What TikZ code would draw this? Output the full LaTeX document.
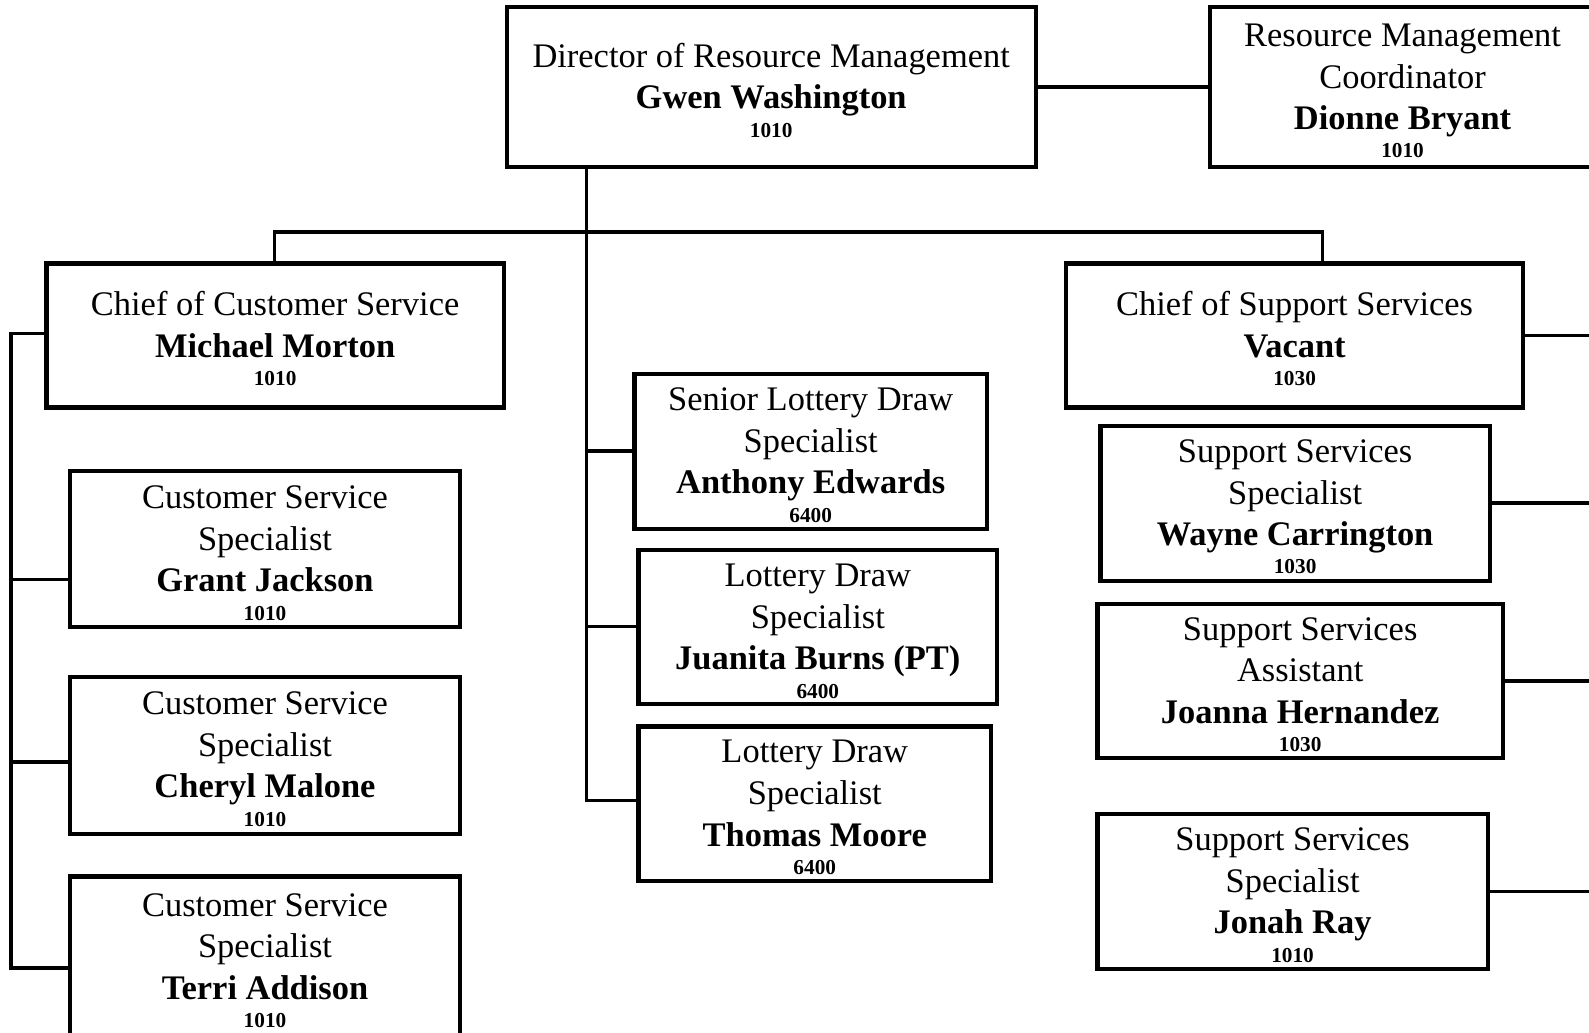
\documentclass[tikz,border=0pt]{standalone}
\usepackage{fontspec}
\setmainfont{Liberation Serif}
\newcommand\unitno[1]{\\[-6.5pt]{\fontsize{10.5}{12}\selectfont\bfseries #1}}
\newcommand\topstrut{\rule{0pt}{15pt}}
\begin{document}
\begin{tikzpicture}[x=0.5pt,y=-0.5pt,
  box/.style 2 args={draw, line width=2.1pt, minimum width=#1*0.5pt, minimum height=#2*0.5pt,
    inner sep=0pt, align=center, font=\fontsize{17}{20.5}\selectfont},
  conn/.style={line width=1.7pt}]
\useasboundingbox (0,0) rectangle (1568,1019);
% boxes
\node[box={522}{158}] (dir) at (761,86) {\topstrut Director of Resource Management\\\textbf{Gwen Washington}\unitno{1010}};
\node[box={380}{158}] (coord) at (1384,86) {\topstrut Resource Management\\Coordinator\\\textbf{Dionne Bryant}\unitno{1010}};
\node[box={451}{142}] (ccs) at (271.5,331) {\topstrut Chief of Customer Service\\\textbf{Michael Morton}\unitno{1010}};
\node[box={451}{142}] (css) at (1277.5,331) {\topstrut Chief of Support Services\\\textbf{Vacant}\unitno{1030}};
\node[box={348}{153}] (sl) at (800,445.5) {\topstrut Senior Lottery Draw\\Specialist\\\textbf{Anthony Edwards}\unitno{6400}};
\node[box={354}{152}] (ljb) at (807,619) {\topstrut Lottery Draw\\Specialist\\\textbf{Juanita Burns (PT)}\unitno{6400}};
\node[box={348}{152}] (ltm) at (804,793) {\topstrut Lottery Draw\\Specialist\\\textbf{Thomas Moore}\unitno{6400}};
\node[box={385}{154}] (cs1) at (261.5,542) {\topstrut Customer Service\\Specialist\\\textbf{Grant Jackson}\unitno{1010}};
\node[box={385}{155}] (cs2) at (261.5,745.5) {\topstrut Customer Service\\Specialist\\\textbf{Cheryl Malone}\unitno{1010}};
\node[box={385}{158}] (cs3) at (261.5,944) {\topstrut Customer Service\\Specialist\\\textbf{Terri Addison}\unitno{1010}};
\node[box={384}{153}] (ss1) at (1278,496.5) {\topstrut Support Services\\Specialist\\\textbf{Wayne Carrington}\unitno{1030}};
\node[box={400}{152}] (ss2) at (1283,672) {\topstrut Support Services\\Assistant\\\textbf{Joanna Hernandez}\unitno{1030}};
\node[box={385}{153}] (ss3) at (1275.5,879.5) {\topstrut Support Services\\Specialist\\\textbf{Jonah Ray}\unitno{1010}};
% junction coordinates
\coordinate (tL) at (271,229);
\coordinate (tR) at (1305,229);
\coordinate (m0) at (579,229);
\coordinate (m1) at (579,445);
\coordinate (m2) at (579,618);
\coordinate (m3) at (579,790);
\coordinate (lb1) at (11,329);
\coordinate (lb2) at (11,572);
\coordinate (lb3) at (11,752);
\coordinate (lb4) at (11,955);
\coordinate (rE) at (1585,0);
% connectors
\draw[conn] (dir.east) -- (coord.west);
\draw[conn] (tL |- ccs.north) -- (tL) -- (tR) -- (tR |- css.north);
\draw[conn] (m0 |- dir.south) -- (m3) -- (m3 -| ltm.west);
\draw[conn] (m1) -- (m1 -| sl.west);
\draw[conn] (m2) -- (m2 -| ljb.west);
\draw[conn] (lb1 -| ccs.west) -- (lb1) -- (lb4) -- (lb4 -| cs3.west);
\draw[conn] (lb2) -- (lb2 -| cs1.west);
\draw[conn] (lb3) -- (lb3 -| cs2.west);
\draw[conn] (css.east) -- (css.east -| rE);
\draw[conn] (ss1.east) -- (ss1.east -| rE);
\draw[conn] (ss2.east) -- (ss2.east -| rE);
\draw[conn] (ss3.east) -- (ss3.east -| rE);
\end{tikzpicture}
\end{document}
